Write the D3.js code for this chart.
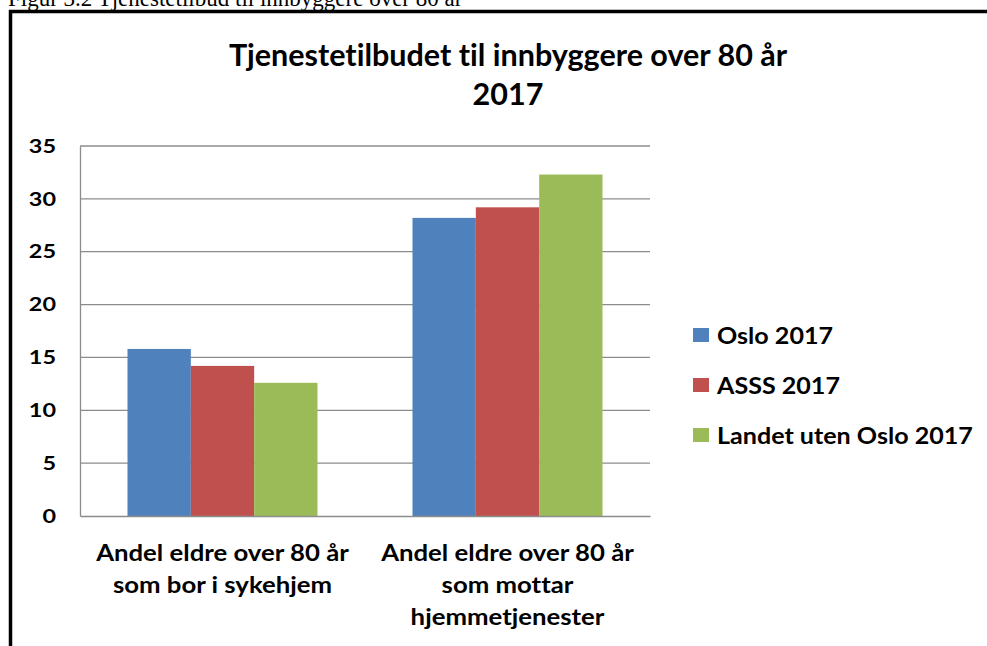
<!DOCTYPE html>
<html>
<head>
<meta charset="utf-8">
<script src="https://cdn.jsdelivr.net/npm/d3@7"></script>
<style>
  body { margin: 0; background: #fff; }
  svg { display: block; }
  text { font-variant-ligatures: none; }
  .lbl { font-family: Lato, "Open Sans", sans-serif; font-weight: bold; fill: #000; }
</style>
</head>
<body>
<svg id="chart" width="987" height="646"></svg>
<script>
// data
var categories = [
  ["Andel eldre over 80 år", "som bor i sykehjem"],
  ["Andel eldre over 80 år", "som mottar", "hjemmetjenester"]
];
var seriesNames = ["Oslo 2017", "ASSS 2017", "Landet uten Oslo 2017"];
var oslo = [15.8, 28.2];
var asss = [14.2, 29.2];
var landet = [12.6, 32.3];
var yTicks = [0, 5, 10, 15, 20, 25, 30, 35];
var colors = ["#4F81BD", "#C0504D", "#9BBB59"];

var svg = d3.select("#chart"),
    margin = {top: 146, right: 337, bottom: 130, left: 80},
    width = +svg.attr("width") - margin.left - margin.right,
    height = +svg.attr("height") - margin.top - margin.bottom,
    g = svg.append("g").attr("transform", "translate(" + margin.left + "," + margin.top + ")");

var values = [oslo, asss, landet];
var data = categories.map(function(c, i) {
  return {key: i, vals: values.map(function(v) { return v[i]; })};
});

// the original picture is a bit wider than tall, so widen the glyphs a little
function stretch(sel, k) {
  sel.each(function() {
    var len = this.getComputedTextLength();
    d3.select(this).attr("textLength", len * k).attr("lengthAdjust", "spacingAndGlyphs");
  });
}

// caption above the frame (cut off at the top)
svg.append("text")
    .attr("x", 8)
    .attr("y", 6)
    .attr("font-family", "'Liberation Serif', 'Times New Roman', serif")
    .attr("font-size", 23)
    .attr("fill", "#000")
    .text("Figur 3.2 Tjenestetilbud til innbyggere over 80 år");

// chart frame
svg.append("path")
    .attr("d", "M10.5,660 V11.5 H1000")
    .attr("fill", "none")
    .attr("stroke", "#000")
    .attr("stroke-width", 3.5);

// title
var title = svg.append("text")
    .attr("class", "lbl")
    .attr("text-anchor", "middle")
    .attr("font-size", 30.5);
title.append("tspan").attr("x", 508).attr("y", 66).text("Tjenestetilbudet til innbyggere over 80 år");
title.append("tspan").attr("x", 508).attr("y", 105).text("2017");

var x0 = d3.scaleBand()
    .domain(data.map(function(d) { return d.key; }))
    .range([0, width]);

var x1 = d3.scaleBand()
    .domain(d3.range(seriesNames.length))
    .range([0, x0.bandwidth()])
    .paddingOuter(0.75);

var y = d3.scaleLinear()
    .domain([0, 35])
    .range([height, 0]);

// gridlines
g.append("g")
    .selectAll("line")
    .data(yTicks.filter(function(t) { return t > 0; }))
    .enter().append("line")
      .attr("x1", 0)
      .attr("x2", width)
      .attr("y1", function(d) { return y(d); })
      .attr("y2", function(d) { return y(d); })
      .attr("stroke", "#8c8c8c")
      .attr("stroke-width", 1.3);

// bars
g.append("g")
  .selectAll("g")
  .data(data)
  .enter().append("g")
    .attr("transform", function(d) { return "translate(" + x0(d.key) + ",0)"; })
  .selectAll("rect")
  .data(function(d) { return d.vals; })
  .enter().append("rect")
    .attr("x", function(d, i) { return x1(i); })
    .attr("y", function(d) { return y(d); })
    .attr("width", x1.bandwidth())
    .attr("height", function(d) { return y(0) - y(d); })
    .attr("fill", function(d, i) { return colors[i]; });

// axes
var yAxis = g.append("g")
    .call(d3.axisLeft(y).tickValues(yTicks).tickSize(0).tickPadding(24));
yAxis.select(".domain").attr("stroke", "#8c8c8c").attr("stroke-width", 1.3);
yAxis.selectAll("text")
    .attr("class", "lbl")
    .attr("font-size", 19.5)
    .attr("font-family", null);
stretch(yAxis.selectAll("text"), 1.2);

var xAxis = g.append("g")
    .attr("transform", "translate(0," + height + ")")
    .call(d3.axisBottom(x0).tickSize(0).tickFormat(""));
xAxis.select(".domain").attr("stroke", "#8c8c8c").attr("stroke-width", 1.3);
xAxis.selectAll(".tick text").remove();
var xLines = xAxis.selectAll(".tick")
  .append("text")
    .attr("class", "lbl")
    .attr("text-anchor", "middle")
    .attr("font-size", 22)
  .selectAll("tspan")
  .data(function(d) { return categories[d]; })
  .enter().append("tspan")
    .attr("x", 0)
    .attr("y", function(d, i) { return 45 + i * 32; })
    .text(function(d) { return d; });
stretch(xLines, 1.17);

// legend
var legend = svg.append("g")
  .selectAll("g")
  .data(seriesNames)
  .enter().append("g")
    .attr("transform", function(d, i) { return "translate(693," + (344 + i * 50) + ")"; });

legend.append("rect")
    .attr("y", -16)
    .attr("width", 16)
    .attr("height", 14)
    .attr("fill", function(d, i) { return colors[i]; });

var legendText = legend.append("text")
    .attr("class", "lbl")
    .attr("x", 24)
    .attr("font-size", 22)
    .text(function(d) { return d; });
stretch(legendText, 1.14);
</script>
</body>
</html>
